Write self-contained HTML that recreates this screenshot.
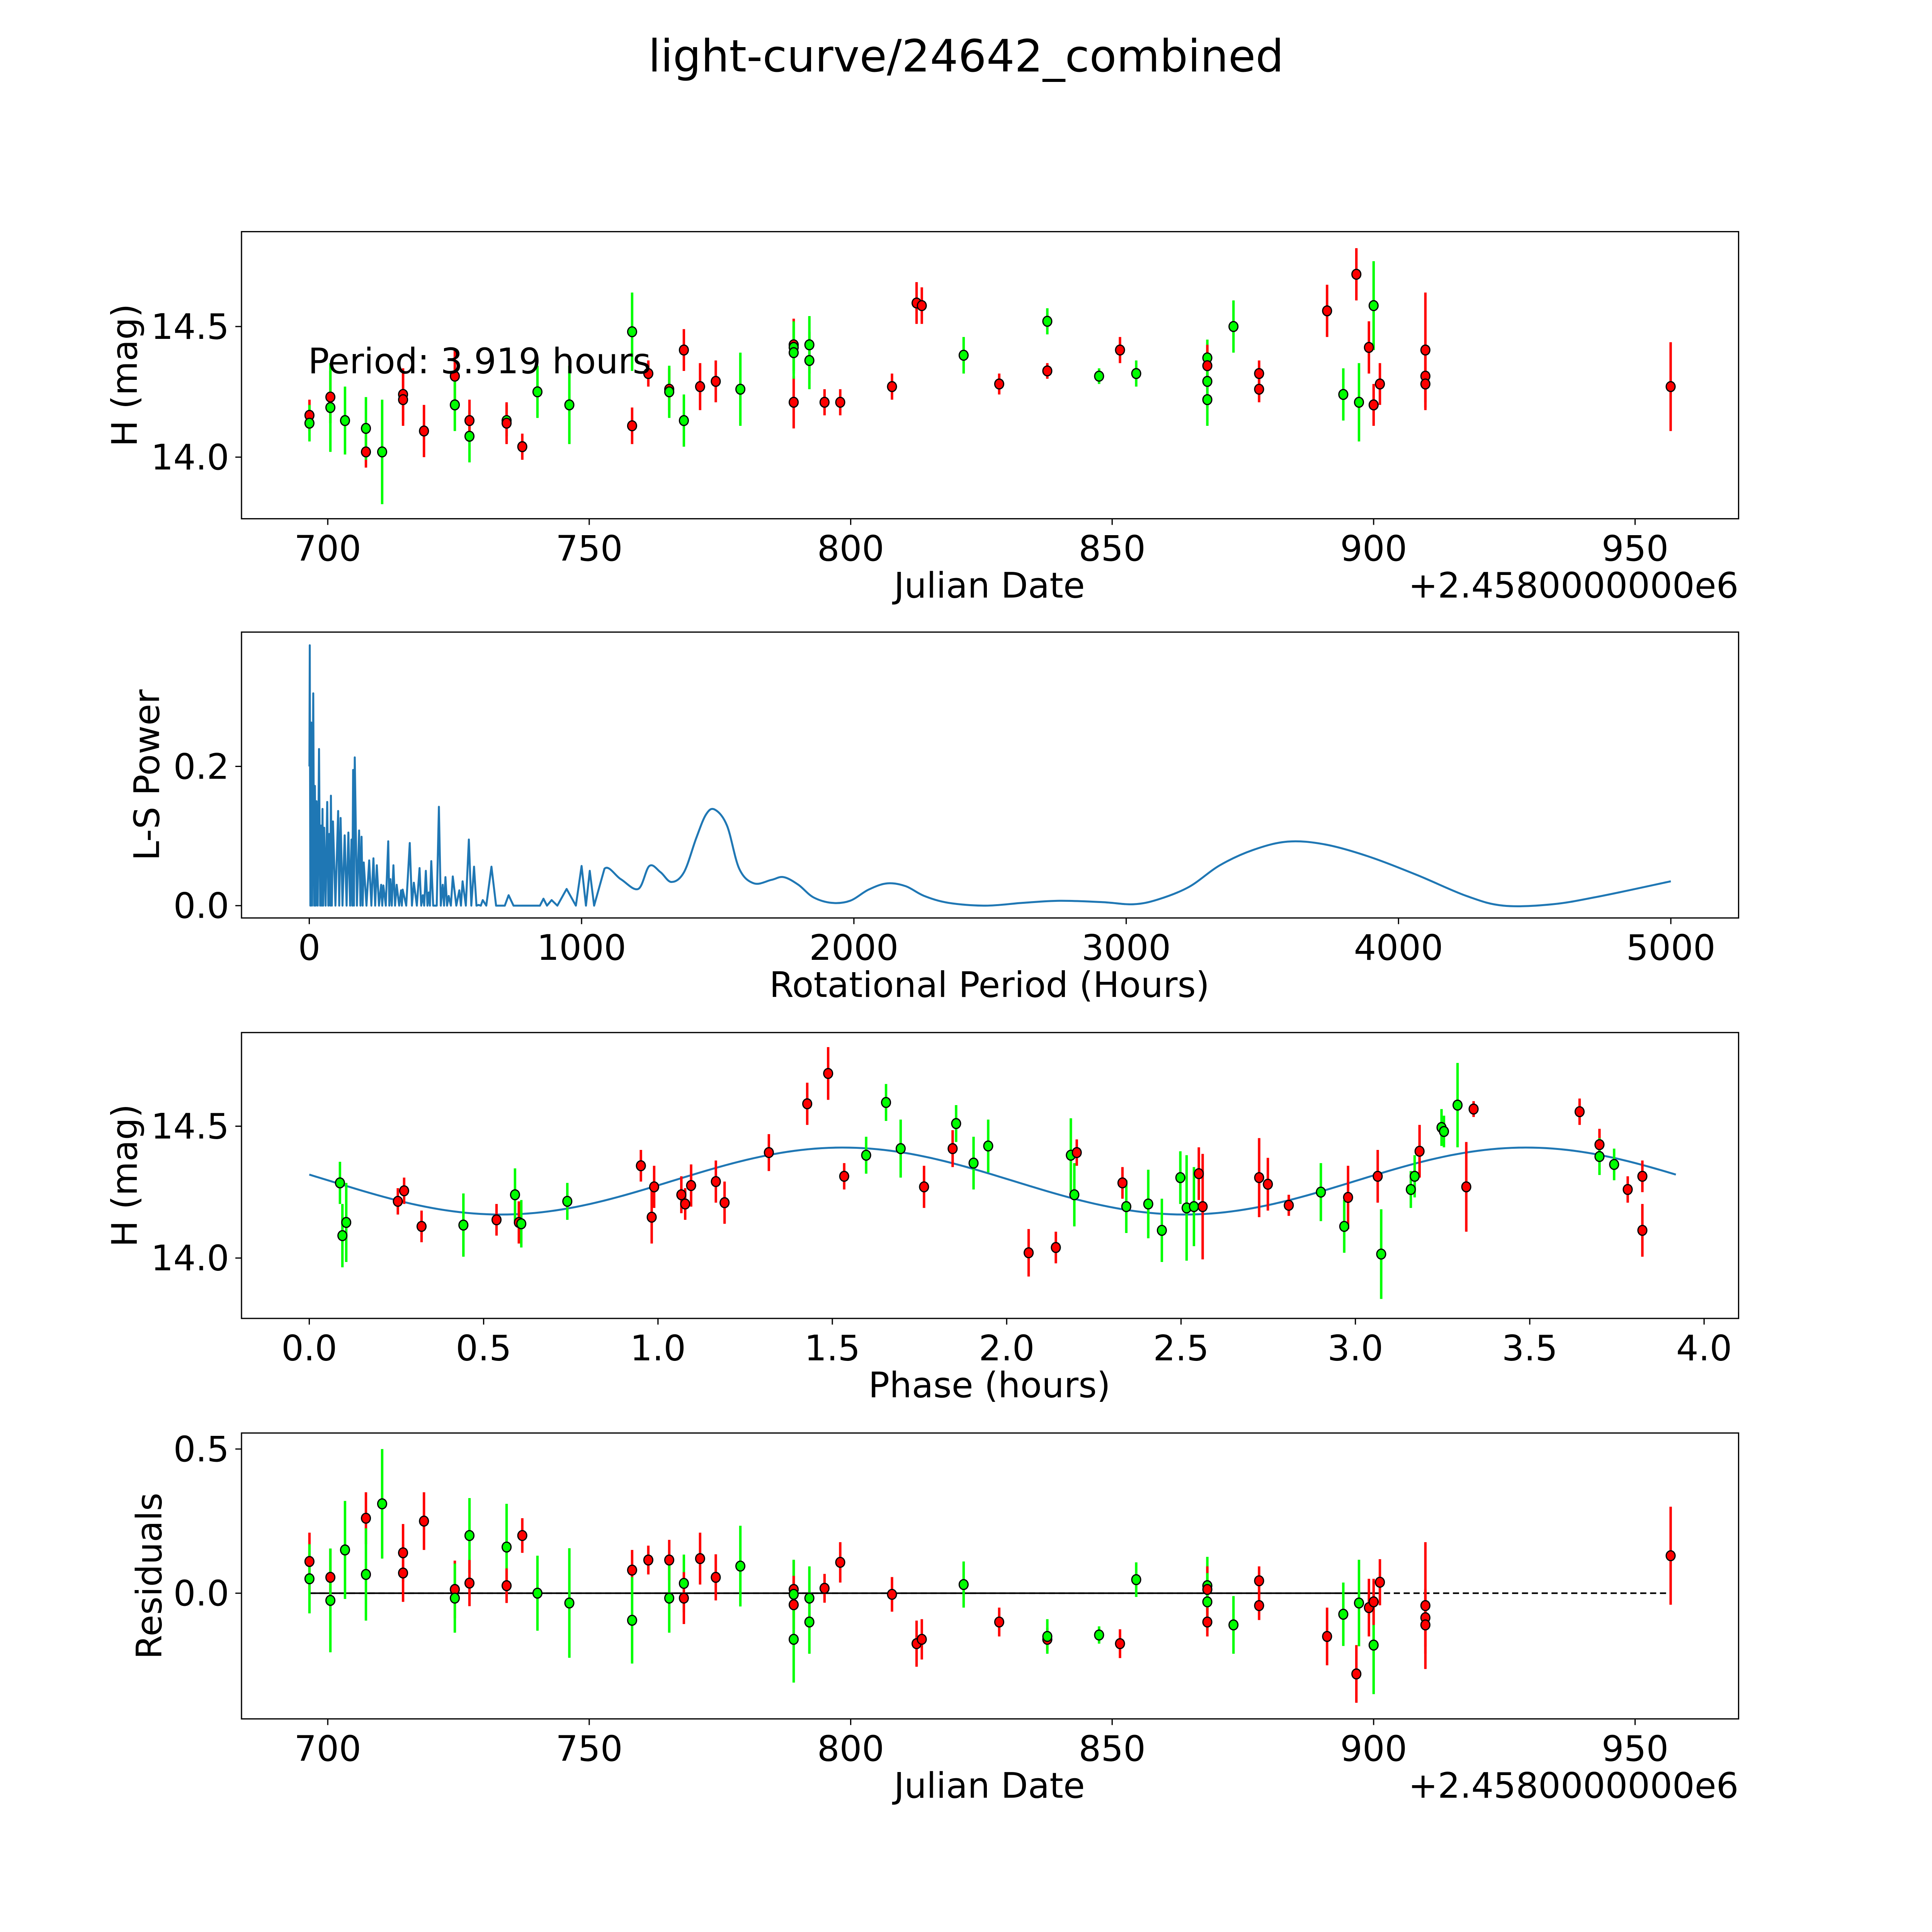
<!DOCTYPE html>
<html><head><meta charset="utf-8">
<style>
html,body{margin:0;padding:0;background:#fff;overflow:hidden;}
svg{display:block;}
text{font-family:"DejaVu Sans","Liberation Sans",sans-serif;fill:#000;}
</style></head>
<body>
<svg id="fig" xmlns="http://www.w3.org/2000/svg" width="5400" height="5400" viewBox="0 0 1693.4 1693.4">
<rect x="0" y="0" width="1693.4" height="1693.4" fill="#fff"/>
<text x="784" y="58" font-size="36" text-anchor="middle">light-curve/24642_combined</text>
<g id="p1"></g>
<g id="p2"></g>
<g id="p3"></g>
<g id="p4"></g>
</svg>
<script>
// ---- Panel 1: light curve ----
const lcJd = [696.5,696.5,700.5,700.5,703.3,707.3,707.3,710.4,714.4,714.4,718.4,724.3,724.3,727.1,727.1,734.2,734.2,737.2,740.1,746.2,758.2,758.2,761.3,765.3,765.3,768.1,768.1,771.2,774.2,778.9,789.1,789.1,789.1,789.1,792.1,792.1,795.0,798.0,807.9,812.6,813.6,821.6,828.4,837.6,837.6,847.5,851.5,854.6,868.2,868.2,868.2,868.2,873.2,878.1,878.1,891.1,894.2,896.7,897.2,899.1,900.0,900.0,901.2,909.9,909.9,909.9,956.8];
const lcMag = [14.16,14.13,14.23,14.19,14.14,14.02,14.11,14.02,14.24,14.22,14.10,14.31,14.20,14.08,14.14,14.14,14.13,14.04,14.25,14.20,14.12,14.48,14.32,14.26,14.25,14.14,14.41,14.27,14.29,14.26,14.43,14.42,14.21,14.40,14.43,14.37,14.21,14.21,14.27,14.59,14.58,14.39,14.28,14.33,14.52,14.31,14.41,14.32,14.38,14.35,14.29,14.22,14.50,14.32,14.26,14.56,14.24,14.70,14.21,14.42,14.58,14.20,14.28,14.41,14.31,14.28,14.27];
const lcErr = [0.06,0.07,0.1,0.17,0.13,0.06,0.12,0.2,0.1,0.1,0.1,0.1,0.1,0.1,0.08,0.06,0.08,0.05,0.1,0.15,0.07,0.15,0.05,0.08,0.1,0.1,0.08,0.09,0.08,0.14,0.1,0.1,0.1,0.1,0.11,0.11,0.05,0.05,0.05,0.08,0.07,0.07,0.04,0.03,0.05,0.03,0.05,0.05,0.07,0.08,0.1,0.1,0.1,0.05,0.05,0.1,0.1,0.1,0.15,0.1,0.17,0.08,0.08,0.22,0.1,0.1,0.17];
const lcCol = ['r','g','r','g','g','r','g','g','r','r','r','r','g','g','r','g','r','r','g','g','r','g','r','r','g','g','r','r','r','g','r','g','r','g','g','g','r','r','r','r','r','g','r','r','g','g','r','g','g','r','g','g','g','r','r','r','g','r','g','r','g','r','r','r','r','r','r'];

// ---- Panel 2: periodogram ----
const lsPeriod = [0.5,1.8,4,7.1,10,14.6,18,20.7,24,26.7,31,35.8,40,43.3,46,48.6,51,54.6,60,65.9,70,73.4,77,79.5,83,87,96,106,110,115,122,130,137,143.6,150,155,158,161,164,167,175,183,188,192,196,200,210,220,228,235.6,242,248,256,264,268,272,281,290,294,298,303,309,315,321,330,337,340,343,356,369,377,384,395,405,411,417,422,428,434,439,443,448,455,460,468,476,483,490,495,500,506,512,520,527,540,551,557,563,575,586,595,605,614,622,630,637,650,669,686,703,718,732,750,767,801,830,847,860,873,890,911,945,979,1000,1016,1030,1046,1084,1144,1208,1249,1290,1330,1376,1421,1457,1489,1534,1579,1633,1697,1742,1796,1851,1919,1986,2054,2122,2190,2258,2348,2484,2620,2756,2914,3027,3118,3231,3344,3466,3593,3729,3887,4068,4249,4385,4566,4747,5000];
const lsPower = [0.2,0.374,0,0.263,0,0.305,0,0.172,0,0.15,0,0.225,0,0.115,0,0.139,0,0.112,0,0.149,0,0.103,0,0.158,0,0.121,0,0.136,0,0.126,0,0.101,0,0.105,0,0.095,0,0.195,0,0.213,0,0.108,0,0.099,0,0.062,0,0.065,0,0.068,0,0.058,0,0.030,0,0.029,0,0.0925,0,0.038,0,0.058,0,0.030,0,0.022,0,0.023,0,0.090,0,0.033,0,0.054,0,0.015,0,0.050,0,0.019,0,0.064,0,0,0,0.142,0,0.030,0,0.041,0,0.014,0,0.042,0,0.022,0,0.035,0,0.095,0,0.056,0,0.001,0,0.008,0,0.056,0,0,0,0.015,0,0,0,0,0,0.010,0,0.008,0,0.024,0,0.057,0,0.050,0,0.053,0.038,0.024,0.057,0.048,0.034,0.048,0.097,0.131,0.138,0.115,0.053,0.032,0.037,0.041,0.030,0.012,0.004,0.007,0.023,0.032,0.028,0.014,0.004,0,0.004,0.007,0.005,0.002,0.009,0.027,0.058,0.080,0.092,0.088,0.071,0.044,0.014,0,0.002,0.014,0.035,0.065];

// ---- Panel 3: phased ----
const phPhase = [0.088,0.095,0.106,0.254,0.272,0.322,0.442,0.537,0.590,0.601,0.608,0.740,0.951,0.982,0.989,1.067,1.078,1.095,1.166,1.191,1.318,1.428,1.488,1.534,1.597,1.654,1.696,1.763,1.845,1.855,1.905,1.947,2.063,2.141,2.184,2.194,2.201,2.332,2.343,2.406,2.445,2.498,2.516,2.537,2.551,2.562,2.724,2.749,2.809,2.901,2.968,2.979,3.064,3.074,3.159,3.170,3.184,3.247,3.254,3.293,3.318,3.339,3.643,3.700,3.700,3.742,3.781,3.823,3.823];
const phMag = [14.285,14.085,14.135,14.215,14.255,14.12,14.125,14.145,14.24,14.135,14.13,14.215,14.35,14.155,14.27,14.24,14.205,14.275,14.29,14.21,14.40,14.585,14.70,14.31,14.39,14.59,14.415,14.27,14.415,14.51,14.36,14.425,14.02,14.04,14.39,14.24,14.40,14.285,14.195,14.205,14.105,14.305,14.19,14.195,14.32,14.195,14.305,14.28,14.20,14.25,14.12,14.23,14.31,14.015,14.26,14.31,14.405,14.495,14.48,14.58,14.27,14.565,14.555,14.43,14.385,14.355,14.26,14.31,14.105];
const phErr = [0.08,0.12,0.15,0.05,0.05,0.06,0.12,0.06,0.1,0.08,0.09,0.07,0.06,0.1,0.08,0.07,0.06,0.08,0.08,0.08,0.07,0.08,0.1,0.05,0.07,0.07,0.11,0.08,0.07,0.07,0.1,0.1,0.09,0.06,0.14,0.12,0.05,0.06,0.1,0.13,0.12,0.1,0.2,0.15,0.1,0.2,0.15,0.1,0.04,0.11,0.1,0.12,0.1,0.17,0.07,0.08,0.1,0.07,0.06,0.16,0.17,0.03,0.05,0.06,0.07,0.06,0.05,0.06,0.1];
const phCol = ['g','g','g','r','r','r','g','r','g','r','g','g','r','r','r','r','r','r','r','r','r','r','r','r','g','g','g','r','r','g','g','g','r','r','g','g','r','r','g','g','g','g','g','g','r','r','r','r','r','g','g','r','r','g','g','g','r','g','g','g','r','r','r','r','g','g','r','r','r'];
const fitMean = [14.292];
const fitAmp = [0.127];
const fitPeriod = [3.919];
const fitPeakPhase = [1.53];

// ---- Panel 4: residuals ----
const resJd = [696.5,696.5,700.5,700.5,703.3,707.3,707.3,710.4,714.4,714.4,718.4,724.3,724.3,727.1,727.1,734.2,734.2,737.2,740.1,746.2,758.2,758.2,761.3,765.3,765.3,768.1,768.1,771.2,774.2,778.9,789.1,789.1,789.1,789.1,792.1,792.1,795.0,798.0,807.9,812.6,813.6,821.6,828.4,837.6,837.6,847.5,851.5,854.6,868.2,868.2,868.2,868.2,873.2,878.1,878.1,891.1,894.2,896.7,897.2,899.1,900.0,900.0,901.2,909.9,909.9,909.9,956.8];
const resVal = [0.11,0.05,0.055,-0.025,0.15,0.26,0.065,0.31,0.14,0.07,0.25,0.013,-0.017,0.2,0.035,0.16,0.026,0.2,0,-0.034,0.08,-0.094,0.115,0.115,-0.017,0.034,-0.017,0.12,0.055,0.094,0.013,-0.004,-0.04,-0.16,-0.017,-0.1,0.017,0.107,-0.004,-0.175,-0.16,0.03,-0.1,-0.16,-0.15,-0.145,-0.175,0.047,0.026,0.013,-0.03,-0.1,-0.11,0.043,-0.043,-0.15,-0.073,-0.28,-0.034,-0.05,-0.18,-0.03,0.038,-0.043,-0.085,-0.11,0.13];
const resErr = [0.1,0.12,0.1,0.18,0.17,0.09,0.16,0.19,0.1,0.1,0.1,0.1,0.12,0.13,0.08,0.15,0.06,0.06,0.13,0.19,0.07,0.15,0.05,0.07,0.12,0.1,0.09,0.09,0.08,0.14,0.1,0.12,0.1,0.15,0.11,0.11,0.05,0.07,0.06,0.08,0.07,0.08,0.05,0.04,0.06,0.03,0.05,0.06,0.1,0.08,0.1,0.05,0.1,0.05,0.05,0.1,0.11,0.1,0.15,0.1,0.17,0.08,0.08,0.22,0.1,0.1,0.17];
const resCol = ['r','g','r','g','g','r','g','g','r','r','r','r','g','g','r','g','r','r','g','g','r','g','r','r','g','g','r','r','r','g','r','g','r','g','g','g','r','r','r','r','r','g','r','r','g','g','r','g','g','r','g','r','g','r','r','r','g','r','g','r','g','r','r','r','r','r','r'];

const jdTicks = [700,750,800,850,900,950];
const magTicks = [14.0,14.5];
const perTicks = [0,1000,2000,3000,4000,5000];
const powTicks = [0.0,0.2];
const phTicks = [0.0,0.5,1.0,1.5,2.0,2.5,3.0,3.5,4.0];
const resTicks = [0.0,0.5];

const NS='http://www.w3.org/2000/svg';
function mk(tag, parent, attrs){const e=document.createElementNS(NS,tag);for(const k in attrs)e.setAttribute(k,attrs[k]);parent.appendChild(e);return e;}
const COL={r:'#ff0000',g:'#00ff00'};
const X0=196, X1=1411;
const FS=28.5;

const xJD = v => 266 + (v-700)*4.244;
const y1 = m => 371 - (m-14)*212;
const xP = p => 251 + p*0.221;
const y2 = w => 735 - w*565;
const xPh = p => 251 + p*283;
const y3 = m => 1021 - (m-14)*214;
const y4 = r => 1293 - r*234;

function frame(g, top, bot, xt, xf, xl, yt, yf, yl, xlabel, ylabel, ylabX, offset){
  const r = mk('rect', g, {x:X0,y:top,width:X1-X0,height:bot-top,fill:'none',stroke:'#000','stroke-width':1});
  
  
  xt.forEach(v=>{
    const x=xf(v);
    const t=mk('line',g,{x1:x,x2:x,y1:bot,y2:bot+5,stroke:'#000','stroke-width':1});
    
    
    const l=mk('text',g,{x:x,y:bot+34,'font-size':FS,'text-anchor':'middle'});
    l.textContent=xl(v);
    
    
  });
  yt.forEach(v=>{
    const y=yf(v);
    const t=mk('line',g,{x1:X0-5,x2:X0,y1:y,y2:y,stroke:'#000','stroke-width':1});
    
    
    const l=mk('text',g,{x:X0-10,y:y+10,'font-size':FS,'text-anchor':'end'});
    l.textContent=yl(v);
    
    
  });
  const xl2=mk('text',g,{x:803,y:bot+64,'font-size':FS,'text-anchor':'middle'});
  xl2.textContent=xlabel;
  
  
  const cy=(top+bot)/2;
  const yl2=mk('text',g,{x:ylabX,y:cy,'font-size':FS,'text-anchor':'middle',transform:`rotate(-90 ${ylabX} ${cy})`});
  yl2.textContent=ylabel;
  
  
  if(offset){
    const o=mk('text',g,{x:X1,y:bot+64,'font-size':FS,'text-anchor':'end'});
    o.textContent=offset;
    
    
  }
}
function points(g, xs, ys, es, cs, xf, yf, scale){
  const eg=mk('g',g,{}); const pg=mk('g',g,{});
  xs.forEach((v,i)=>{
    const x=xf(v), y=yf(ys[i]), e=es[i]*scale;
    const b=mk('line',eg,{x1:x,x2:x,y1:y-e,y2:y+e,stroke:COL[cs[i]],'stroke-width':2});
    
    
    const c=mk('ellipse',pg,{cx:x,cy:y,rx:3.6,ry:4,fill:COL[cs[i]],stroke:'#000','stroke-width':1});
    
    
  });
}
const fmt1=v=>v.toFixed(1);
const fmtI=v=>String(v);

// Panel 1
const p1=document.getElementById('p1');
frame(p1,188,421,jdTicks,xJD,fmtI,magTicks,y1,fmt1,'Julian Date','H (mag)',111,'+2.4580000000e6');
points(p1,lcJd,lcMag,lcErr,lcCol,xJD,y1,212);
const pt=mk('text',p1,{x:250,y:303,'font-size':FS});
pt.textContent='Period: 3.919 hours';



// Panel 2
const p2=document.getElementById('p2');
frame(p2,513,745,perTicks,xP,fmtI,powTicks,y2,fmt1,'Rotational Period (Hours)','L-S Power',129,null);
const pts=lsPeriod.map((p,i)=>[xP(p),y2(lsPower[i])]);
let split=lsPeriod.findIndex(p=>p>=1084);
let d=pts.slice(0,split+1).map((q,i)=>(i?'L':'M')+q[0].toFixed(2)+' '+q[1].toFixed(2)).join(' ');
for(let i=split;i<pts.length-1;i++){
  const p0=pts[Math.max(i-1,0)],p1q=pts[i],p2q=pts[i+1],p3=pts[Math.min(i+2,pts.length-1)];
  const c1=[p1q[0]+(p2q[0]-p0[0])/6,p1q[1]+(p2q[1]-p0[1])/6];
  const c2=[p2q[0]-(p3[0]-p1q[0])/6,p2q[1]-(p3[1]-p1q[1])/6];
  d+=` C${c1[0].toFixed(2)} ${c1[1].toFixed(2)} ${c2[0].toFixed(2)} ${c2[1].toFixed(2)} ${p2q[0].toFixed(2)} ${p2q[1].toFixed(2)}`;
}
const ls=mk('path',p2,{d:d,fill:'none',stroke:'#1f77b4','stroke-width':1.6,'stroke-linejoin':'round'});



// Panel 3
const p3=document.getElementById('p3');
frame(p3,838,1070,phTicks,xPh,fmt1,magTicks,y3,fmt1,'Phase (hours)','H (mag)',111,null);
let cd='';
for(let i=0;i<=200;i++){const ph=fitPeriod[0]*i/200;const m=fitMean[0]+fitAmp[0]*Math.cos(4*Math.PI*(ph-fitPeakPhase[0])/fitPeriod[0]);cd+=(i?'L':'M')+xPh(ph).toFixed(2)+' '+y3(m).toFixed(2)+' ';}
const fc=mk('path',p3,{d:cd,fill:'none',stroke:'#1f77b4','stroke-width':1.6});


points(p3,phPhase,phMag,phErr,phCol,xPh,y3,214);

// Panel 4
const p4=document.getElementById('p4');
frame(p4,1163,1395,jdTicks,xJD,fmtI,resTicks,y4,fmt1,'Julian Date','Residuals',131,'+2.4580000000e6');
const zl=mk('line',p4,{x1:xJD(resJd[0]),x2:xJD(resJd[resJd.length-1]),y1:y4(0),y2:y4(0),stroke:'#000','stroke-width':1.3,'stroke-dasharray':'5,3'});


const zs=mk('line',p4,{x1:xJD(resJd[0]),x2:xJD(901.2),y1:y4(0),y2:y4(0),stroke:'#000','stroke-width':1.3});


points(p4,resJd,resVal,resErr,resCol,xJD,y4,234);
</script>
</body></html>
